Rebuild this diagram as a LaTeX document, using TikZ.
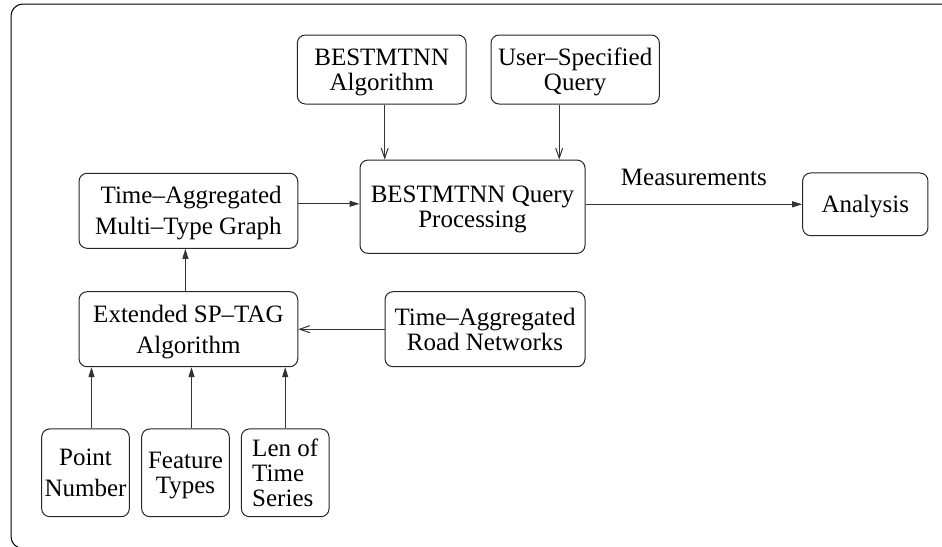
\documentclass[tikz,border=0pt]{standalone}
\usepackage{fontspec}
\setmainfont{Liberation Serif}
\usetikzlibrary{arrows.meta}
\tikzset{
  box/.style={draw=black!85, line width=1pt, rounded corners=8pt, inner sep=0pt, text depth=0pt, align=center, font=\fontsize{25}{25}\selectfont},
  wide/.style={font=\fontsize{25}{31}\selectfont},
  flow/.style={line width=1pt, draw=black!80, -{Triangle[length=10pt,width=6pt]}},
  feed/.style={line width=1pt, draw=black!80, -{Straight Barb[length=10pt,width=7pt]}}
}
\begin{document}
\begin{tikzpicture}[x=1pt,y=-1pt]
\useasboundingbox (0,0) rectangle (942,546);
\draw[line width=1pt, rounded corners=12pt] (11,4) rectangle (980,548.5);
\node[box, minimum width=168.7pt, minimum height=69pt] (algo) at (381.7,69.5) {BESTMTNN\\Algorithm};
\node[box, minimum width=168.3pt, minimum height=69pt] (query) at (575.2,69.5) {User–Specified\\Query};
\node[box, minimum width=225pt, minimum height=93.3pt] (qp) at (472.5,206.7) {BESTMTNN Query\\Processing};
\node[box, wide, align=right, minimum width=218.7pt, minimum height=75pt] (graph) at (188.4,210.8) {Time–Aggregated\\Multi–Type Graph};
\node[box, minimum width=125.3pt, minimum height=62.7pt] (analysis) at (865.3,204.3) {Analysis};
\node[box, wide, minimum width=218.7pt, minimum height=75pt] (ext) at (188.4,329.2) {Extended SP–TAG\\Algorithm};
\node[box, minimum width=200pt, minimum height=75pt] (road) at (485,329.2) {Time–Aggregated\\Road Networks};
\node[box, wide, minimum width=87.6pt, minimum height=87.7pt] (point) at (85.5,472.8) {Point\\Number};
\node[box, minimum width=87.6pt, minimum height=87.7pt] (feature) at (185.5,472.8) {Feature\\Types};
\node[box, align=left, minimum width=87.7pt, minimum height=87.7pt] (len) at (285.2,472.8) {Len of\\Time\\Series};
\draw[feed] ([xshift=3pt]algo.south) -- ([xshift=3pt]algo.south |- qp.north);
\draw[feed] ([xshift=-16pt]query.south) -- ([xshift=-16pt]query.south |- qp.north);
\draw[flow] ([yshift=7pt]graph.east) -- ([yshift=7pt]graph.east -| qp.west);
\draw[flow] (qp.east |- analysis.west) -- node[above=18pt, inner sep=0pt, font=\fontsize{25}{31}\selectfont] (meas) {Measurements} (analysis.west);
\draw[flow] ([xshift=-3pt]ext.north) -- ([xshift=-3pt]ext.north |- graph.south);
\draw[feed] (road.west) -- (ext.east);
\draw[flow] ([xshift=6pt]point.north) -- ([xshift=6pt]point.north |- ext.south);
\draw[flow] ([xshift=6pt]feature.north) -- ([xshift=6pt]feature.north |- ext.south);
\draw[flow] (len.north) -- (len.north |- ext.south);
\end{tikzpicture}
\end{document}
